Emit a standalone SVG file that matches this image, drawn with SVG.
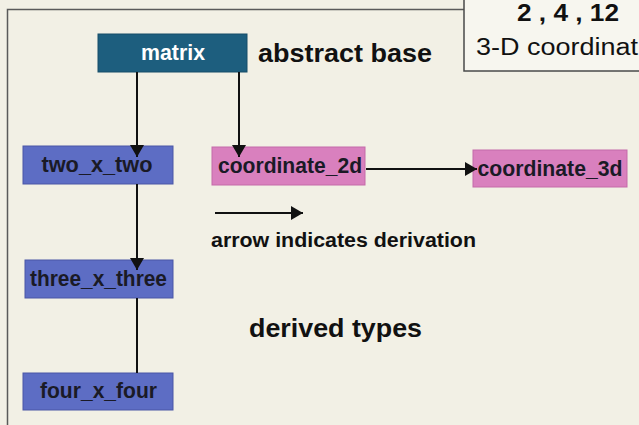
<svg xmlns="http://www.w3.org/2000/svg" width="639" height="425" viewBox="0 0 639 425">
<defs>
<style>
.frame{fill:none;stroke:#5a5a5a;stroke-width:1.5}
.edge{fill:none;stroke:#111;stroke-width:2}
.base{fill:#1d5e7e;stroke:#174d68;stroke-width:1}
.blue{fill:#5d6dc4;stroke:#4b57a6;stroke-width:1}
.pink{fill:#d980be;stroke:#c46aa9;stroke-width:1}
.lbl{font-family:"Liberation Sans",Arial,sans-serif;font-weight:bold;font-size:22px;fill:#1a1a26;text-anchor:middle}
.wlbl{fill:#ffffff}
.note{font-family:"Liberation Sans",Arial,sans-serif;font-weight:bold;fill:#111}
</style>
<marker id="ah" markerUnits="userSpaceOnUse" markerWidth="15" markerHeight="15" refX="12" refY="7" orient="auto">
<path d="M0,0 L12,7 L0,14 Z" fill="#111"/>
</marker>
</defs>
<rect x="0" y="0" width="639" height="425" fill="#f2f0e5"/>
<g id="frame">
<polyline class="frame" points="7.5,430 7.5,9.5 464,9.5"/>
<rect x="464" y="-5" width="200" height="76" fill="#f7f6ef" stroke="#4a4a4a" stroke-width="1.5"/>
<text x="568" y="21" class="note" font-size="23" text-anchor="middle" textLength="102" lengthAdjust="spacingAndGlyphs">2 , 4 , 12</text>
<text x="476" y="55" font-family="'Liberation Sans',Arial,sans-serif" font-size="23" fill="#111" textLength="162" lengthAdjust="spacingAndGlyphs">3-D coordinat</text>
</g>
<g id="matrix">
<rect class="base" x="98" y="34" width="149" height="38"/>
<text class="lbl wlbl" x="173" y="60" textLength="64" lengthAdjust="spacingAndGlyphs">matrix</text>
</g>
<g id="two_x_two">
<rect class="blue" x="23" y="146" width="150" height="38"/>
<text class="lbl" x="97" y="172" textLength="111" lengthAdjust="spacingAndGlyphs">two_x_two</text>
</g>
<g id="coordinate_2d">
<rect class="pink" x="212" y="147" width="153" height="38"/>
<text class="lbl" x="290" y="173" textLength="144" lengthAdjust="spacingAndGlyphs">coordinate_2d</text>
</g>
<g id="coordinate_3d">
<rect class="pink" x="473" y="150" width="154" height="37"/>
<text class="lbl" x="550" y="176" textLength="145" lengthAdjust="spacingAndGlyphs">coordinate_3d</text>
</g>
<g id="three_x_three">
<rect class="blue" x="25" y="260" width="148" height="38"/>
<text class="lbl" x="98.5" y="286" textLength="137" lengthAdjust="spacingAndGlyphs">three_x_three</text>
</g>
<g id="four_x_four">
<rect class="blue" x="23" y="373" width="150" height="37"/>
<text class="lbl" x="98.5" y="398" textLength="117" lengthAdjust="spacingAndGlyphs">four_x_four</text>
</g>
<g id="connectors">
<line class="edge" x1="137" y1="72" x2="137" y2="157" marker-end="url(#ah)"/>
<line class="edge" x1="239" y1="72" x2="239" y2="157" marker-end="url(#ah)"/>
<line class="edge" x1="137" y1="184" x2="137" y2="270" marker-end="url(#ah)"/>
<line class="edge" x1="137" y1="298" x2="137" y2="373"/>
<line class="edge" x1="366" y1="169" x2="477" y2="169" marker-end="url(#ah)"/>
</g>
<g id="labels">
<text class="note" x="258" y="62" font-size="26" textLength="174" lengthAdjust="spacingAndGlyphs">abstract base</text>
<line class="edge" x1="215" y1="213" x2="303" y2="213" marker-end="url(#ah)"/>
<text class="note" x="211" y="247" font-size="20" textLength="265" lengthAdjust="spacingAndGlyphs">arrow indicates derivation</text>
<text class="note" x="249" y="337" font-size="26" textLength="173" lengthAdjust="spacingAndGlyphs">derived types</text>
</g>
</svg>
